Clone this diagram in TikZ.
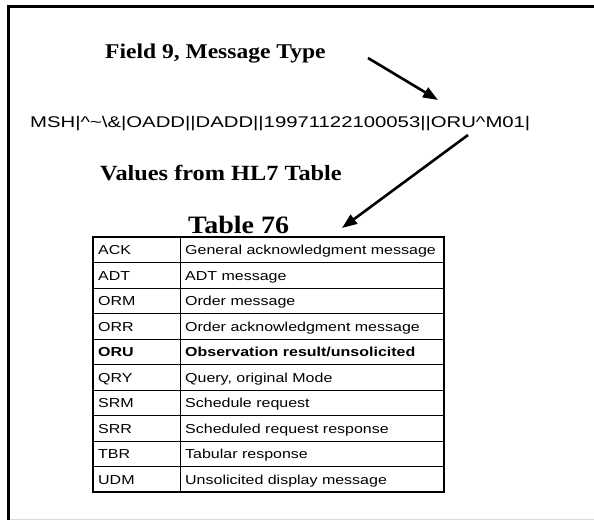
\documentclass[tikz,border=0pt]{standalone}
\usepackage{fontspec}
\usetikzlibrary{arrows.meta}
\newfontfamily\headfont[FakeStretch=1.12]{Liberation Serif}
\newfontfamily\msgfont[FakeStretch=1.31]{Liberation Sans}
\newfontfamily\tabfont[FakeStretch=1.23]{Liberation Sans}

\begin{document}
\begin{tikzpicture}
    [
      x=1pt, y=-1pt,
      head/.style={font=\headfont\bfseries\fontsize{21}{25}\selectfont, anchor=base west, inner sep=0pt},
      cell/.style={font=\tabfont\fontsize{13}{15}\selectfont, anchor=base west, inner sep=0pt},
      rowplain/.style={},
      rowbold/.style={font=\tabfont\bfseries\fontsize{13}{15}\selectfont},
      rule/.style={black, line width=.9pt},
      pointer/.style={black, line width=2.6pt, -{Triangle[length=15pt,width=11pt]}},
    ]
    % page
    \fill [white] (0,0) rectangle (594,520);
    \useasboundingbox (0,0) rectangle (594,520);
    \draw [black, line width=3.4pt] (7,6.5) -- (594,6.5);
    \draw [black, line width=3.4pt] (8.7,5) -- (8.7,520);
    \draw [black!15, line width=1pt] (10,519) -- (594,519);

    % texts
    \node [head] (field) at (105,58) {Field 9, Message Type};
    \node [font=\msgfont\fontsize{15.5}{18}\selectfont, anchor=base west, inner sep=0pt] (msg) at (30,127)
      {MSH|\textasciicircum\textasciitilde\textbackslash\&|OADD||DADD||19971122100053||ORU\textasciicircum M01|};
    \node [head, font=\headfont\bfseries\fontsize{21.7}{26}\selectfont] (values) at (100,180) {Values from HL7 Table};
    \node [head, font=\headfont\bfseries\fontsize{25}{29}\selectfont] (tabtitle) at (188,233) {Table 76};

    % arrows
    \coordinate (tail1) at (368,58);
    \coordinate (tip1) at (438,100);
    \coordinate (tail2) at (468,135);
    \coordinate (tip2) at (342,228);
    \draw [pointer] (tail1) -- (tip1);
    \draw [pointer] (tail2) -- (tip2);

    % table
    \foreach \i in {1,...,9} {
      \draw [rule] (93, 237 + 25.5*\i) -- (444, 237 + 25.5*\i);
    }
    \draw [rule] (180,237) -- (180,492);
    \draw [rule, line width=1.2pt] (93,237) rectangle (444,492);
    \foreach \i/\c/\d/\w in {1/ACK/{General acknowledgment message}/rowplain,
                             2/ADT/{ADT message}/rowplain,
                             3/ORM/{Order message}/rowplain,
                             4/ORR/{Order acknowledgment message}/rowplain,
                             5/ORU/{Observation result/unsolicited}/rowbold,
                             6/QRY/{Query, original Mode}/rowplain,
                             7/SRM/{Schedule request}/rowplain,
                             8/SRR/{Scheduled request response}/rowplain,
                             9/TBR/{Tabular response}/rowplain,
                             10/UDM/{Unsolicited display message}/rowplain} {
      \node [cell, \w] (code\i) at (98, 237 + 25.5*\i - 8) {\c};
      \node [cell, \w] (desc\i) at (185, 237 + 25.5*\i - 8) {\d};
    }
  \end{tikzpicture}
\end{document}
